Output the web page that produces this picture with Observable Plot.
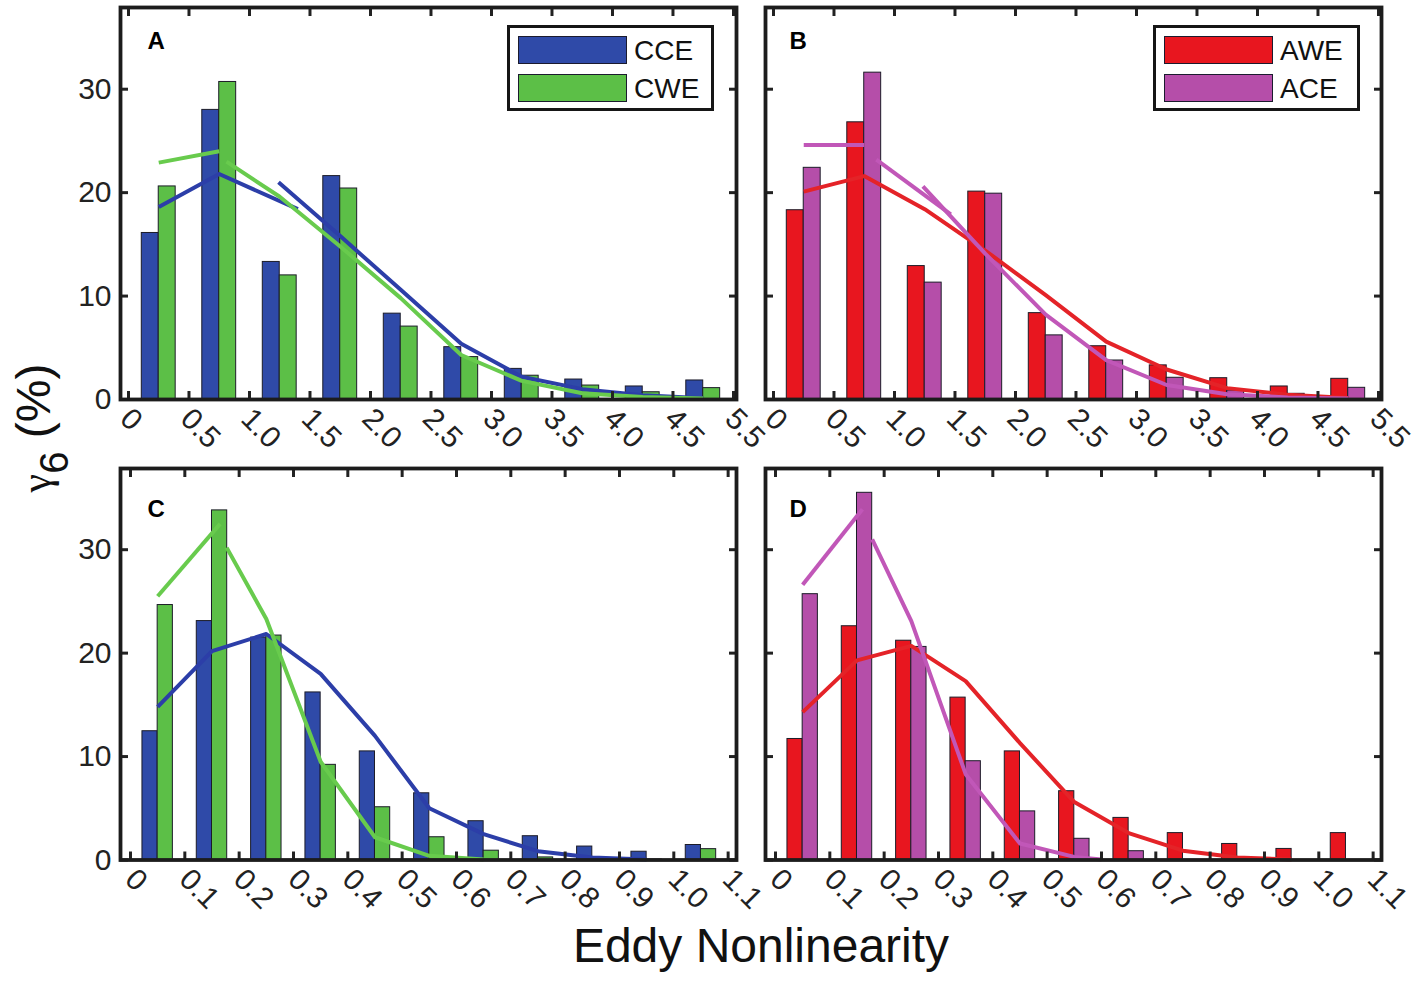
<!DOCTYPE html>
<html><head><meta charset="utf-8">
<script src="https://cdn.jsdelivr.net/npm/d3@7"></script>
<script src="https://cdn.jsdelivr.net/npm/@observablehq/plot@0.6"></script>
<style>
body{margin:0;background:#fff;}
#wrap{position:relative;width:1417px;height:982px;overflow:hidden;font-family:"Liberation Sans",Arial,sans-serif;background:#fff;}
.legend{position:absolute;box-sizing:border-box;border:3.5px solid #161616;background:#fff;width:207px;height:86px;}
.sw{position:absolute;left:7.5px;width:109px;height:28px;box-sizing:border-box;border:1.5px solid #1b1b2e;}
.lt{position:absolute;left:124px;font-size:28px;line-height:28px;color:#111;}
#labels{position:absolute;left:0;top:0;}
</style></head><body><div id="wrap">
<svg id="labels" width="1417" height="982">
  <text x="761" y="962" text-anchor="middle" font-size="48" fill="#111" font-family="Liberation Sans, Arial, sans-serif">Eddy Nonlinearity</text>
  <text transform="translate(50,428) rotate(-90)" text-anchor="middle" fill="#111" font-family="Liberation Sans, Arial, sans-serif"><tspan font-size="42" font-family="Liberation Serif, serif">γ</tspan><tspan font-size="40" dy="18">6</tspan><tspan font-size="48" dy="-18"> (%)</tspan></text>
</svg>
</div>
<script>
// ---- tick labels (bin edges) ----
const edgesAB = ["0","0.5","1.0","1.5","2.0","2.5","3.0","3.5","4.0","4.5","5.5"];
const edgesCD = ["0","0.1","0.2","0.3","0.4","0.5","0.6","0.7","0.8","0.9","1.0","1.1"];
const yTicks = [0, 10, 20, 30];

// ---- histogram values (%) ----
const cceA = [16.1, 28.0, 13.3, 21.6, 8.3, 5.06, 2.96, 1.93, 1.26, 1.84];
const cweA = [20.6, 30.7, 12.0, 20.4, 7.05, 4.1, 2.3, 1.35, 0.7, 1.1];
const aweB = [18.3, 26.8, 12.9, 20.1, 8.35, 5.15, 3.3, 2.06, 1.26, 2.0];
const aceB = [22.4, 31.6, 11.3, 19.9, 6.2, 3.77, 2.1, 0.87, 0.55, 1.13];
const cceC = [12.45, 23.1, 21.5, 16.2, 10.5, 6.45, 3.75, 2.3, 1.3, 0.8, 1.45];
const cweC = [24.65, 33.8, 21.7, 9.2, 5.1, 2.2, 0.9, 0.25, 0.1, 0.05, 1.05];
const aweD = [11.7, 22.6, 21.2, 15.7, 10.5, 6.65, 4.07, 2.6, 1.55, 1.07, 2.6];
const aceD = [25.7, 35.5, 20.6, 9.55, 4.7, 2.05, 0.85, 0, 0, 0, 0];

// ---- fitted curves: segments of [bin position, %] ----
const fitCCE_A = [[[0.5,18.6],[1.5,21.8],[2.8,18.4]],
                  [[2.48,21.0],[3.5,15.8],[4.5,10.6],[5.5,5.4],[6.5,2.2],[7.5,1.0],[8.5,0.4],[9.5,0.12]]];
const fitCWE_A = [[[0.5,22.9],[1.5,24.0]],
                  [[1.62,23.0],[2.5,19.6],[3.5,14.8],[4.5,9.8],[5.5,4.3],[6.5,1.8],[7.5,0.6],[8.5,0.25],[9.5,0.1]]];
const fitAWE_B = [[[0.5,20.1],[1.5,21.6],[2.5,18.4],[3.5,14.4],[4.5,10.1],[5.5,5.6],[6.5,2.9],[7.5,1.1],[8.5,0.45],[9.5,0.15]]];
const fitACE_B = [[[0.5,24.6],[1.5,24.6]],
                  [[1.7,23.2],[2.93,17.9]],
                  [[2.47,20.6],[3.5,14.1],[4.5,8.2],[5.5,3.8],[6.5,1.4],[7.5,0.5],[8.5,0.2],[9.5,0.1]]];
const fitCCE_C = [[[0.5,14.8],[1.5,20.2],[2.5,21.85],[3.5,18.0],[4.5,12.0],[5.5,5.0],[6.5,2.5],[7.5,0.85],[8.5,0.25],[9.5,0.05]]];
const fitCWE_C = [[[0.5,25.5],[1.65,32.5]],
                  [[1.77,30.2],[2.5,23.3],[3.5,9.5],[4.5,2.2],[5.5,0.4],[6.5,0.05]]];
const fitAWE_D = [[[0.5,14.3],[1.5,19.3],[2.5,20.7],[3.5,17.3],[4.5,11.3],[5.5,5.6],[6.5,2.6],[7.5,0.9],[8.5,0.25],[9.5,0.05]]];
const fitACE_D = [[[0.5,26.6],[1.6,33.9]],
                  [[1.78,31.0],[2.5,23.1],[3.5,8.3],[4.5,1.6],[5.5,0.3],[6.0,0.05]]];

const COL = {
  blue:   {fill: "#2f4aa8", line: "#2c3ea8"},
  green:  {fill: "#5cbf47", line: "#68cb4d"},
  red:    {fill: "#e8161f", line: "#e42328"},
  purple: {fill: "#b54ea9", line: "#c157b8"}
};

const toRows = segs => segs.flatMap((s, i) => s.map(([x, y]) => ({seg: i, x, y})));

function panel(o) {
  const w = 0.28;
  const b1 = o.s1.map((v, k) => ({k, v}));
  const b2 = o.s2.map((v, k) => ({k, v}));
  const idx = d3.range(o.edges.length);
  const svg = Plot.plot({
    width: 720, height: 460,
    marginLeft: 70, marginRight: 34, marginTop: o.mt, marginBottom: o.mb,
    x: {domain: o.xDomain, label: null},
    y: {domain: [0, o.yTop], label: null},
    marks: [
      Plot.rect(b1, {x1: d => d.k + 0.5 - w, x2: d => d.k + 0.5, y1: d => 0, y2: "v", fill: o.c1.fill, stroke: "#1c1c28", strokeWidth: 1}),
      Plot.rect(b2, {x1: d => d.k + 0.5, x2: d => d.k + 0.5 + w, y1: d => 0, y2: "v", fill: o.c2.fill, stroke: "#1c1c28", strokeWidth: 1}),
      Plot.line(toRows(o.f1), {x: "x", y: "y", z: "seg", stroke: o.c1.line, strokeWidth: 4, strokeLinecap: "butt"}),
      Plot.line(toRows(o.f2), {x: "x", y: "y", z: "seg", stroke: o.c2.line, strokeWidth: 4, strokeLinecap: "butt"}),
      Plot.axisY(yTicks, {anchor: "left", tickSize: -8, tickPadding: 17, strokeWidth: 3, fontSize: 30, label: null,
                          tickFormat: o.yLabels ? (d => String(d)) : (() => "")}),
      Plot.axisY(yTicks, {anchor: "right", tickSize: -8, tickFormat: () => "", strokeWidth: 3, label: null}),
      Plot.axisX(idx, {anchor: "bottom", tickSize: -8, tickFormat: () => "", strokeWidth: 3, label: null}),
      Plot.axisX(idx, {anchor: "top", tickSize: -8, tickFormat: () => "", strokeWidth: 3, label: null}),
      Plot.axisX(idx, {anchor: "bottom", tickSize: 0, tickRotate: 45, textAnchor: "start", lineAnchor: "top",
                       tickPadding: 6, dx: o.labelDx, tickFormat: i => o.edges[i], fontSize: 30, label: null}),
      Plot.frame({stroke: "#1c1c1c", strokeWidth: 3.8}),
      Plot.text([o.letter], {frameAnchor: "top-left", dx: o.ldx, dy: o.ldy, text: d => d, fontWeight: "bold",
                             fontSize: 24, lineAnchor: "top", textAnchor: "start", fill: "#000"})
    ]
  });
  svg.style.position = "absolute";
  svg.style.left = o.left + "px";
  svg.style.top = o.top + "px";
  svg.style.overflow = "visible";
  svg.style.background = "transparent";
  svg.style.maxWidth = "none";
  svg.style.fontFamily = "'Liberation Sans', Arial, sans-serif";
  svg.style.color = "#222";
  return svg;
}

function legend(left, top, items) {
  const box = document.createElement("div");
  box.className = "legend";
  box.style.left = left + "px";
  box.style.top = top + "px";
  items.forEach(([name, c], i) => {
    const sw = document.createElement("div");
    sw.className = "sw";
    sw.style.top = (7.5 + i * 38) + "px";
    sw.style.background = c.fill;
    const t = document.createElement("div");
    t.className = "lt";
    t.style.top = (8.5 + i * 38) + "px";
    t.textContent = name;
    box.appendChild(sw); box.appendChild(t);
  });
  return box;
}

const wrap = document.getElementById("wrap");
const domAB = [-0.132, 10.05], domCD = [-0.184, 11.154];
wrap.appendChild(panel({left: 50, top: 0, mt: 7, mb: 61, yTop: 37.9, xDomain: domAB, edges: edgesAB, yLabels: true,
  s1: cceA, s2: cweA, c1: COL.blue, c2: COL.green, f1: fitCCE_A, f2: fitCWE_A, letter: "A", ldx: 27, ldy: 24, labelDx: 5}));
wrap.appendChild(panel({left: 695, top: 0, mt: 7, mb: 61, yTop: 37.9, xDomain: domAB, edges: edgesAB, yLabels: false,
  s1: aweB, s2: aceB, c1: COL.red, c2: COL.purple, f1: fitAWE_B, f2: fitACE_B, letter: "B", ldx: 24, ldy: 24, labelDx: 5}));
wrap.appendChild(panel({left: 50, top: 460, mt: 8, mb: 60.5, yTop: 37.85, xDomain: domCD, edges: edgesCD, yLabels: true,
  s1: cceC, s2: cweC, c1: COL.blue, c2: COL.green, f1: fitCCE_C, f2: fitCWE_C, letter: "C", ldx: 27, ldy: 31, labelDx: 8}));
wrap.appendChild(panel({left: 695, top: 460, mt: 8, mb: 60.5, yTop: 37.85, xDomain: domCD, edges: edgesCD, yLabels: false,
  s1: aweD, s2: aceD, c1: COL.red, c2: COL.purple, f1: fitAWE_D, f2: fitACE_D, letter: "D", ldx: 24, ldy: 31, labelDx: 8}));
wrap.appendChild(legend(507, 25, [["CCE", COL.blue], ["CWE", COL.green]]));
wrap.appendChild(legend(1153, 25, [["AWE", COL.red], ["ACE", COL.purple]]));
</script></body></html>
